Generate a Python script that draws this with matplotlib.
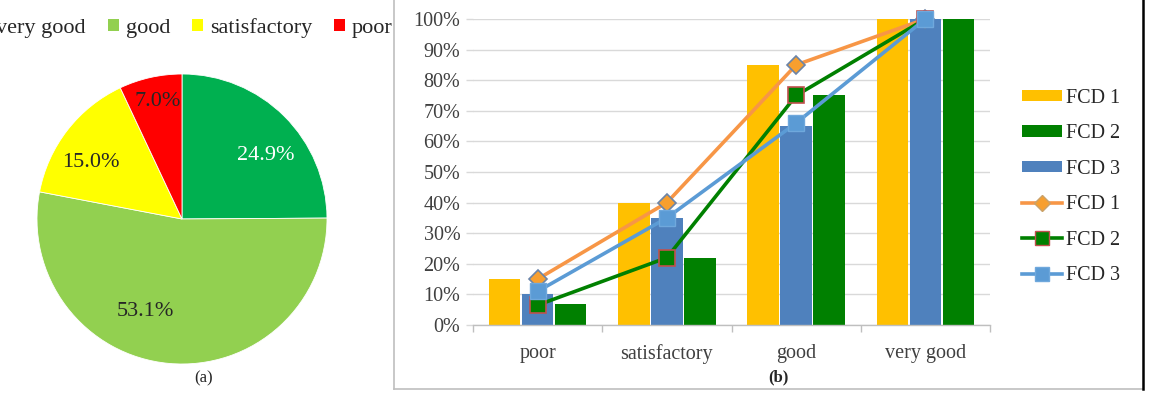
import numpy as np
import matplotlib
matplotlib.use("Agg")
import matplotlib.pyplot as plt
from matplotlib.patches import Patch
from matplotlib.lines import Line2D
from matplotlib.ticker import FuncFormatter, FixedLocator

# === Data ===
pie_labels = ['very good', 'good', 'satisfactory', 'poor']
pie_values = [24.9, 53.1, 15.0, 7.0]
pie_colors = ['#00B050', '#92D050', '#FFFF00', '#FF0000']

categories = ['poor', 'satisfactory', 'good', 'very good']
bar_fcd1 = [15, 40, 85, 100]
bar_fcd2 = [7, 22, 75, 100]
bar_fcd3 = [10, 35, 65, 100]
line_fcd1 = [15, 40, 85, 100]
line_fcd2 = [6.5, 22, 75, 100]
line_fcd3 = [11, 35, 66, 100]

plt.rcParams['font.family'] = ['Liberation Serif', 'DejaVu Serif']
text_col = '#404040'

W, H = 1153, 411
fig = plt.figure(figsize=(W / 100, H / 100), dpi=100)

# === (a) Pie chart ===
cx, cy, r = 182, 219, 145
ax_pie = fig.add_axes([(cx - r) / W, (H - cy - r) / H, 2 * r / W, 2 * r / H])
wedges, texts, autotexts = ax_pie.pie(
    pie_values, colors=pie_colors, startangle=90, counterclock=False,
    autopct='%.1f%%', pctdistance=0.7,
    wedgeprops=dict(edgecolor='white', linewidth=0.6),
    textprops=dict(fontsize=16, color='#262626'))
ax_pie.set_xlim(-1, 1)
ax_pie.set_ylim(-1, 1)
ax_pie.set_aspect('equal')
# nudge labels to where the original puts them
label_pos = [(0.58, 0.44), (-0.25, -0.64), (-0.63, 0.39), (-0.17, 0.81)]
for t, p in zip(autotexts, label_pos):
    t.set_position(p)
autotexts[0].set_color('white')

pie_handles = [Patch(facecolor=c, edgecolor='none') for c in pie_colors]
fig.legend(pie_handles, pie_labels, loc='center right',
           bbox_to_anchor=(404 / W, 1 - 28 / H), ncol=4, frameon=False,
           fontsize=16, handlelength=0.5, handleheight=0.5,
           handletextpad=0.3, columnspacing=1.0, borderpad=0,
           labelcolor='#262626')
fig.text(204 / W, 1 - 378 / H, '(a)', ha='center', va='center',
         fontsize=12, color='#262626')

# === (b) Bar + line chart ===
ax = fig.add_axes([473 / W, 1 - 325 / H, 517 / W, 306 / H])
x = np.arange(len(categories))
bw = 0.245
off = 0.255
ax.bar(x - off, bar_fcd1, bw, color='#FFC000', zorder=2)
ax.bar(x, bar_fcd3, bw, color='#4F81BD', zorder=2)
ax.bar(x + off, bar_fcd2, bw, color='#008000', zorder=2)

ax.plot(x, line_fcd1, color='#F79646', lw=2.6, marker='D', ms=9,
        mfc='#F79F2F', mec='#6B84A8', mew=1.2, zorder=3, clip_on=False)
ax.plot(x, line_fcd2, color='#008000', lw=2.6, marker='s', ms=11,
        mfc='#008000', mec='#C0504D', mew=1.2, zorder=4, clip_on=False)
ax.plot(x, line_fcd3, color='#5B9BD5', lw=2.6, marker='s', ms=12,
        mfc='#5B9BD5', mec='#6FA8DC', mew=1.0, zorder=5, clip_on=False)

ax.set_xlim(-0.5, 3.5)
ax.set_ylim(0, 100)
ax.set_yticks(np.arange(0, 101, 10))
ax.yaxis.set_major_formatter(FuncFormatter(lambda v, p: f'{int(v)}%'))
ax.yaxis.grid(True, color='#D9D9D9', lw=1.0, zorder=0)
ax.set_axisbelow(True)
ax.set_xticks(x)
ax.set_xticklabels(categories)
ax.xaxis.set_minor_locator(FixedLocator(np.arange(-0.5, 4, 1)))
ax.tick_params(axis='x', which='major', length=0, pad=14,
               labelsize=14.5, labelcolor=text_col)
ax.tick_params(axis='x', which='minor', length=5, color='#BFBFBF', width=1)
ax.tick_params(axis='y', length=5, color='#D9D9D9', width=1, pad=4,
               labelsize=14.5, labelcolor=text_col)
for s in ['top', 'right', 'left']:
    ax.spines[s].set_visible(False)
ax.spines['bottom'].set_color('#BFBFBF')
ax.spines['bottom'].set_linewidth(1.0)

handles = [
    Patch(facecolor='#FFC000', edgecolor='none'),
    Patch(facecolor='#008000', edgecolor='none'),
    Patch(facecolor='#4F81BD', edgecolor='none'),
    Line2D([], [], color='#F79646', lw=2.6, marker='D', ms=8,
           mfc='#F79F2F', mec='#C9A26B', mew=1.0),
    Line2D([], [], color='#008000', lw=2.6, marker='s', ms=10,
           mfc='#008000', mec='#C0504D', mew=1.0),
    Line2D([], [], color='#5B9BD5', lw=2.6, marker='s', ms=10,
           mfc='#5B9BD5', mec='#6FA8DC', mew=1.0),
]
fig.legend(handles, ['FCD 1', 'FCD 2', 'FCD 3', 'FCD 1', 'FCD 2', 'FCD 3'],
           loc='center left', bbox_to_anchor=(1012 / W, 1 - 187 / H),
           frameon=False, fontsize=14.5, handlelength=2.0, handleheight=0.5,
           handletextpad=0.2, labelspacing=0.82, borderpad=0,
           labelcolor='#262626')

fig.text(778 / W, 1 - 377 / H, '(b)', ha='center', va='center',
         fontsize=12, fontweight='bold', color='#262626')

# === Panel border ===
fig.add_artist(Line2D([394 / W, 394 / W], [1, 1 - 389 / H],
                      color='#BFBFBF', lw=1.2, transform=fig.transFigure))
fig.add_artist(Line2D([394 / W, 1143 / W], [1 - 389 / H, 1 - 389 / H],
                      color='#BFBFBF', lw=1.2, transform=fig.transFigure))
fig.add_artist(Line2D([1143 / W, 1143 / W], [1, 1 - 389 / H],
                      color='black', lw=1.8, transform=fig.transFigure))

fig.savefig('out.png', dpi=100)
